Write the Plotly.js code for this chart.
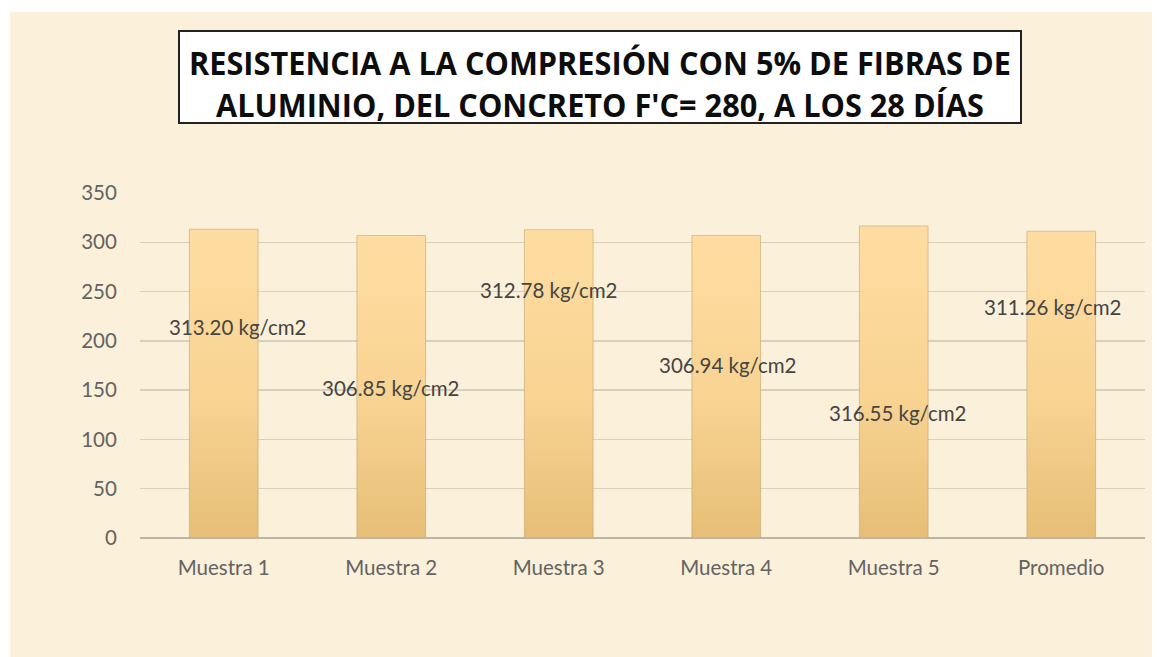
<!DOCTYPE html>
<html>
<head>
<meta charset="utf-8">
<script src="https://cdn.plot.ly/plotly-3.0.1.min.js"></script>
<style>
  html, body { margin: 0; padding: 0; background: #ffffff; width: 1164px; height: 657px; overflow: hidden; }
  #chart { position: absolute; left: 10px; top: 12px; width: 1142px; height: 645px; }
</style>
</head>
<body>
<div id="chart"></div>
<script>
// ---- data ----
const categories = ["Muestra 1", "Muestra 2", "Muestra 3", "Muestra 4", "Muestra 5", "Promedio"];
const values = [313.20, 306.85, 312.78, 306.94, 316.55, 311.26];
const valueLabels = ["313.20 kg/cm2", "306.85 kg/cm2", "312.78 kg/cm2", "306.94 kg/cm2", "316.55 kg/cm2", "311.26 kg/cm2"];
const yTickValues = [0, 50, 100, 150, 200, 250, 300, 350];
const chartTitle = "RESISTENCIA A LA COMPRESIÓN CON 5% DE FIBRAS DE<br>ALUMINIO, DEL CONCRETO F'C= 280, A LOS 28 DÍAS";

// ---- label placement (style, not data) ----
const labelYPos = [214, 152, 251.5, 175.5, 127, 234];
const labelXShift = [14, 0, -10, 2, 4, -8];

const labelFont = { family: "Lato, 'Open Sans', sans-serif", size: 20.5, color: "#454545" };
const tickFont = { family: "Lato, 'Open Sans', sans-serif", size: 20.5, color: "#636363" };

const trace = {
  type: "bar",
  x: categories,
  y: values,
  width: 0.41,
  marker: { color: "#F6D18E", line: { color: "rgba(190,160,110,0.55)", width: 1 } },
  hoverinfo: "x+y"
};

const annotations = categories.map((c, i) => ({
  x: c, y: labelYPos[i], xref: "x", yref: "y",
  text: valueLabels[i], showarrow: false, xshift: labelXShift[i],
  font: labelFont, xanchor: "center", yanchor: "middle"
}));

// white framed box behind the title
annotations.unshift({
  x: 0.4577, y: 1.3362, xref: "paper", yref: "paper",
  xanchor: "center", yanchor: "middle",
  text: " ", showarrow: false,
  width: 840, height: 90, borderpad: 0,
  bgcolor: "#ffffff", bordercolor: "#222222", borderwidth: 2,
  font: { size: 10 }
});

const layout = {
  width: 1142, height: 645,
  margin: { l: 130, r: 7, t: 181, b: 119, pad: 0 },
  paper_bgcolor: "#FBF0DA",
  plot_bgcolor: "rgba(0,0,0,0)",
  showlegend: false,
  title: {
    text: chartTitle,
    x: 0.5166, xref: "container", xanchor: "center",
    y: 0.9025, yref: "container", yanchor: "middle",
    font: { family: "'Open Sans', 'Noto Sans', sans-serif", size: 32.5, color: "#0d0d0d", weight: "bold" }
  },
  xaxis: {
    type: "category",
    showgrid: false, zeroline: false, showline: false,
    ticks: "outside", ticklen: 11, tickcolor: "rgba(0,0,0,0)",
    tickfont: tickFont,
    fixedrange: true
  },
  yaxis: {
    range: [0, 350], tickvals: yTickValues, ticktext: yTickValues.map(String),
    showgrid: true, gridcolor: "#D9CFBE", gridwidth: 1.5,
    zeroline: true, zerolinecolor: "#BDB4A4", zerolinewidth: 1.5,
    showline: false,
    ticks: "outside", ticklen: 18, tickcolor: "rgba(0,0,0,0)",
    tickfont: tickFont,
    fixedrange: true
  },
  annotations: annotations,
  bargap: 0.59
};

Plotly.newPlot("chart", [trace], layout, { displayModeBar: false, staticPlot: true }).then(gd => {
  const ns = "http://www.w3.org/2000/svg";
  // bar gradient
  const svg = gd.querySelector(".main-svg");
  const defs = svg.querySelector("defs");
  const grad = document.createElementNS(ns, "linearGradient");
  grad.setAttribute("id", "barGrad");
  grad.setAttribute("x1", "0"); grad.setAttribute("y1", "0");
  grad.setAttribute("x2", "0"); grad.setAttribute("y2", "1");
  [["0", "#FFDDA2"], ["0.55", "#F8D392"], ["1", "#E6BE76"]].forEach(([o, c]) => {
    const s = document.createElementNS(ns, "stop");
    s.setAttribute("offset", o); s.setAttribute("stop-color", c);
    grad.appendChild(s);
  });
  defs.appendChild(grad);
  gd.querySelectorAll(".bars .point path").forEach(p => { p.style.fill = "url(#barGrad)"; });

  // title: bring to front and condense horizontally (narrow Calibri-like look)
  const tg = gd.querySelector(".g-gtitle");
  if (tg) {
    tg.parentNode.appendChild(tg);
    const t = tg.querySelector("text");
    if (t) {
      const bb = t.getBBox();
      const cx = bb.x + bb.width / 2;
      const s = 822 / bb.width;
      t.setAttribute("transform", `translate(${cx},0) scale(${s},1) translate(${-cx},0)`);
    }
  }
});
</script>
</body>
</html>
